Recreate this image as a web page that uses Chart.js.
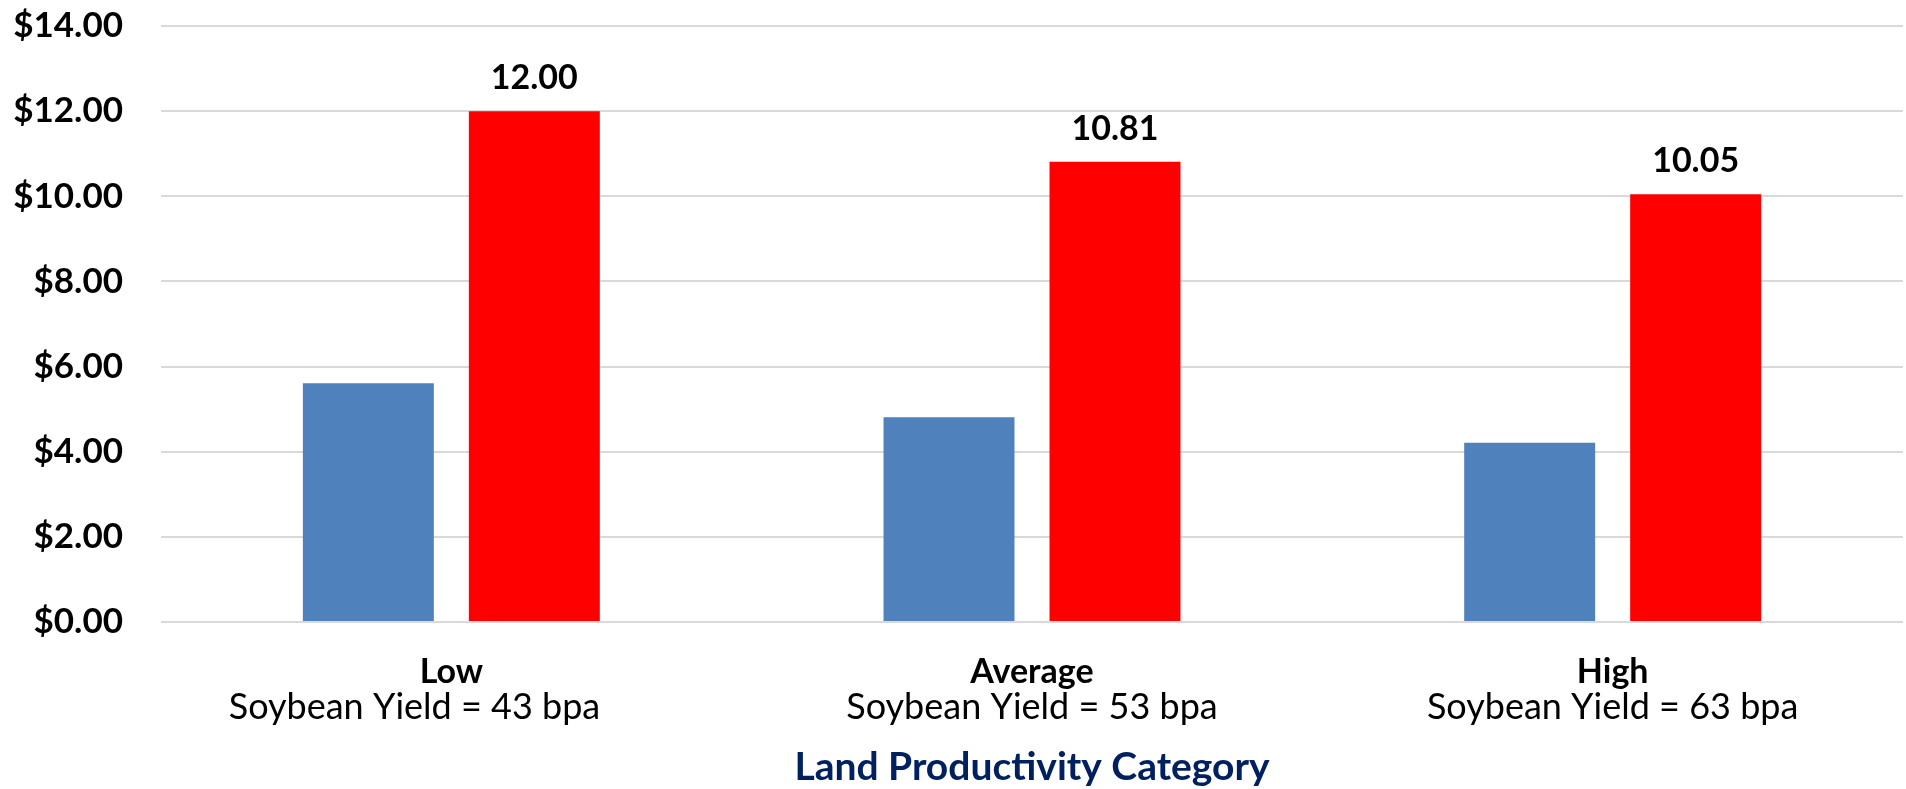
<!DOCTYPE html>
<html>
<head>
<meta charset="utf-8">
<title>Land Productivity Category</title>
<script src="https://cdn.jsdelivr.net/npm/chart.js@4.4.1/dist/chart.umd.min.js"></script>
<style>
    html, body { margin: 0; padding: 0; background: #fff; }
    #wrap { width: 1906px; height: 789px; }
</style>
</head>
<body>
<div id="wrap"><canvas id="costChart"></canvas></div>
<script>
/* ---------- DATA ---------- */
const categories = ["Low", "Average", "High"];
// trailing spaces on the first one: in the original the line sits left of centre
const yieldLabels = ["Soybean Yield = 43 bpa        ", "Soybean Yield = 53 bpa", "Soybean Yield = 63 bpa"];
const blueValues = [5.61, 4.81, 4.21];
const redValues = [12.00, 10.81, 10.05];
const yTicks = [0, 2, 4, 6, 8, 10, 12, 14];
const axisTitle = "Land Productivity Category";

const FONT = "Lato, 'Open Sans', sans-serif";

/* ---------- VALUE LABELS (red bars only) ---------- */
const redLabels = {
    id: "redLabels",
    afterDatasetsDraw(chart) {
        const ctx = chart.ctx;
        const meta = chart.getDatasetMeta(1);
        ctx.save();
        ctx.font = "bold 34px " + FONT;
        ctx.fillStyle = "#000";
        ctx.textAlign = "center";
        ctx.textBaseline = "alphabetic";
        meta.data.forEach((bar, i) => {
            ctx.fillText(redValues[i].toFixed(2), bar.x, bar.y - 22);
        });
        ctx.restore();
    }
};

/* ---------- CHART ---------- */
const ctx = document.getElementById("costChart").getContext("2d");

new Chart(ctx, {
    type: "bar",
    data: {
        labels: categories,
        datasets: [
            {
                label: "Blue",
                data: blueValues,
                backgroundColor: "#4f81bd",
                xAxisID: "x"
            },
            {
                label: "Red",
                data: redValues,
                backgroundColor: "#ff0000",
                xAxisID: "x"
            }
        ]
    },
    options: {
        responsive: true,
        maintainAspectRatio: false,
        devicePixelRatio: 1,
        animation: false,
        categoryPercentage: 0.5717,
        barPercentage: 0.789,
        layout: { padding: { top: 26, right: 3, bottom: 0, left: 0 } },
        plugins: {
            legend: { display: false },
            tooltip: { enabled: false }
        },
        scales: {
            y: {
                min: 0,
                max: 14,
                afterBuildTicks: (scale) => { scale.ticks = yTicks.map(v => ({ value: v })); },
                afterFit: (scale) => {
                    scale.width = 161;
                    scale.paddingTop = 0;
                    scale.paddingBottom = 0;
                },
                ticks: {
                    padding: 38,
                    color: "#000",
                    font: { family: FONT, size: 35, weight: "bold" },
                    callback: (v) => "$" + Number(v).toFixed(2)
                },
                grid: { color: "#d9d9d9", lineWidth: 2, drawTicks: false },
                border: { display: false }
            },
            x: {
                position: "bottom",
                afterFit: (scale) => { scale.height = 67; },
                ticks: {
                    padding: 33,
                    color: "#000",
                    font: { family: FONT, size: 34, weight: "bold", lineHeight: 1 }
                },
                grid: { display: false, drawTicks: false },
                border: { display: false }
            },
            x2: {
                type: "category",
                position: "bottom",
                labels: yieldLabels,
                afterFit: (scale) => { scale.height = 100; },
                ticks: {
                    padding: 0,
                    color: "#000",
                    font: { family: FONT, size: 36, weight: "normal", lineHeight: 1 }
                },
                grid: { display: false, drawTicks: false },
                border: { display: false },
                title: {
                    display: true,
                    text: axisTitle,
                    color: "#002060",
                    font: { family: FONT, size: 39, weight: "bold", lineHeight: 1 },
                    padding: { top: 0, bottom: 2 }
                }
            }
        }
    },
    plugins: [redLabels]
});
</script>
</body>
</html>
